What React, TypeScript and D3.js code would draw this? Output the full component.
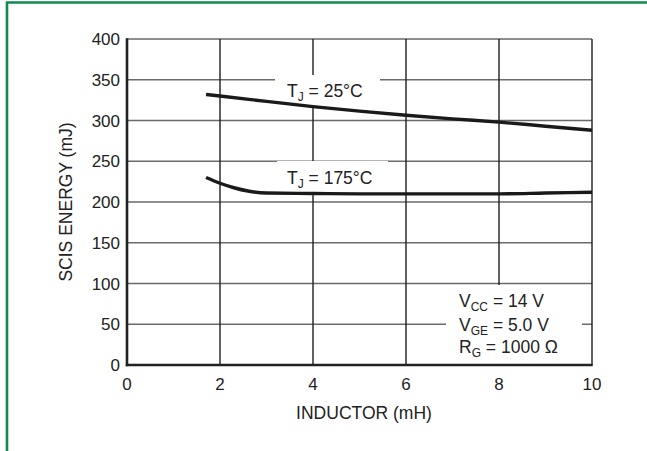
import * as d3 from "d3";
import { useEffect } from "react";

const xTicks = [0, 2, 4, 6, 8, 10];
const yTicks = [0, 50, 100, 150, 200, 250, 300, 350, 400];

// TJ = 25°C
const inductance25 = [1.7, 2, 3, 4, 5, 6, 7, 8, 9, 10];
const energy25 = [332, 330, 323.5, 317, 311.5, 306.5, 302, 298, 293, 288];

// TJ = 175°C
const inductance175 = [1.7, 2, 2.3, 2.6, 3, 4, 5, 6, 7, 8, 9, 10];
const energy175 = [230, 223, 217.5, 213.5, 211, 210.5, 210, 210, 210, 210, 211, 212];

const W = 647;
const H = 451;
const margin = { top: 39, right: 55, bottom: 86, left: 127 };
const FONT = "'Liberation Sans', Arial, sans-serif";
const INK = "#222";

export default function App() {
  useEffect(() => {
    document.body.style.margin = "0";
    document.body.style.overflow = "hidden";
  }, []);

  const x = d3.scaleLinear().domain([0, 10]).range([margin.left, W - margin.right]);
  const y = d3.scaleLinear().domain([0, 400]).range([H - margin.bottom, margin.top]);

  const line = d3
    .line<[number, number]>()
    .x(d => x(d[0]))
    .y(d => y(d[1]))
    .curve(d3.curveMonotoneX);

  const pts25 = inductance25.map((v, i) => [v, energy25[i]] as [number, number]);
  const pts175 = inductance175.map((v, i) => [v, energy175[i]] as [number, number]);

  const x0 = x(0), x1 = x(10), y0 = y(0), y1 = y(400);

  return (
    <svg width={W} height={H} style={{ display: "block", background: "#fff" }} fontFamily={FONT}>
      {/* outer green frame (left and top edges only are in view) */}
      <path d={`M7,${H + 5} V2.5 H${W + 5}`} fill="none" stroke="#13894f" strokeWidth={2.6} />

      {/* horizontal grid */}
      {yTicks.slice(1).map(t => (
        <line key={"h" + t} x1={x0} x2={x1} y1={y(t)} y2={y(t)} stroke="#6a6a6a" strokeWidth={1.6} />
      ))}
      {/* vertical grid */}
      {xTicks.slice(1).map(t => (
        <line key={"v" + t} x1={x(t)} x2={x(t)} y1={y1} y2={y0} stroke="#1e1e1e" strokeWidth={1.4} />
      ))}

      {/* label backgrounds */}
      <rect x={275} y={75} width={105} height={31} fill="#fff" />
      <rect x={277} y={161} width={111} height={31} fill="#fff" />
      <rect x={446} y={285} width={136} height={79} fill="#fff" />

      {/* axes */}
      <line x1={x0} x2={x0} y1={y1 - 0.8} y2={y0 + 1.2} stroke={INK} strokeWidth={2.6} />
      <line x1={x0 - 1.2} x2={x1 + 0.7} y1={y0} y2={y0} stroke={INK} strokeWidth={2.6} />

      {/* curves */}
      <path d={line(pts25) ?? ""} fill="none" stroke="#1a1a1a" strokeWidth={3.4} />
      <path d={line(pts175) ?? ""} fill="none" stroke="#1a1a1a" strokeWidth={3.4} />

      {/* tick labels */}
      {yTicks.map(t => (
        <text key={"yl" + t} x={120} y={y(t)} dy="0.36em" textAnchor="end" fontSize={17} fill={INK}>
          {t}
        </text>
      ))}
      {xTicks.map(t => (
        <text key={"xl" + t} x={x(t)} y={389.5} textAnchor="middle" fontSize={17} fill={INK}>
          {t}
        </text>
      ))}

      {/* axis titles */}
      <text x={364} y={419} textAnchor="middle" fontSize={17.5} fill={INK}>
        INDUCTOR (mH)
      </text>
      <text
        transform={`translate(72,${(y0 + y1) / 2}) rotate(-90)`}
        textAnchor="middle"
        fontSize={17.5}
        fill={INK}
      >
        SCIS ENERGY (mJ)
      </text>

      {/* curve labels */}
      <text x={287} y={96.5} fontSize={17.5} fill={INK}>
        T<tspan fontSize={12} dy={4}>J</tspan>
        <tspan dy={-4}> = 25°C</tspan>
      </text>
      <text x={287} y={184} fontSize={17.5} fill={INK}>
        T<tspan fontSize={12} dy={4}>J</tspan>
        <tspan dy={-4}> = 175°C</tspan>
      </text>

      {/* conditions */}
      <text x={459} y={307} fontSize={17.5} fill={INK}>
        V<tspan fontSize={12} dy={4}>CC</tspan>
        <tspan dy={-4}> = 14 V</tspan>
      </text>
      <text x={459} y={330.5} fontSize={17.5} fill={INK}>
        V<tspan fontSize={12} dy={4}>GE</tspan>
        <tspan dy={-4}> = 5.0 V</tspan>
      </text>
      <text x={459} y={352.5} fontSize={17.5} fill={INK}>
        R<tspan fontSize={12} dy={4}>G</tspan>
        <tspan dy={-4}> = 1000 Ω</tspan>
      </text>
    </svg>
  );
}
